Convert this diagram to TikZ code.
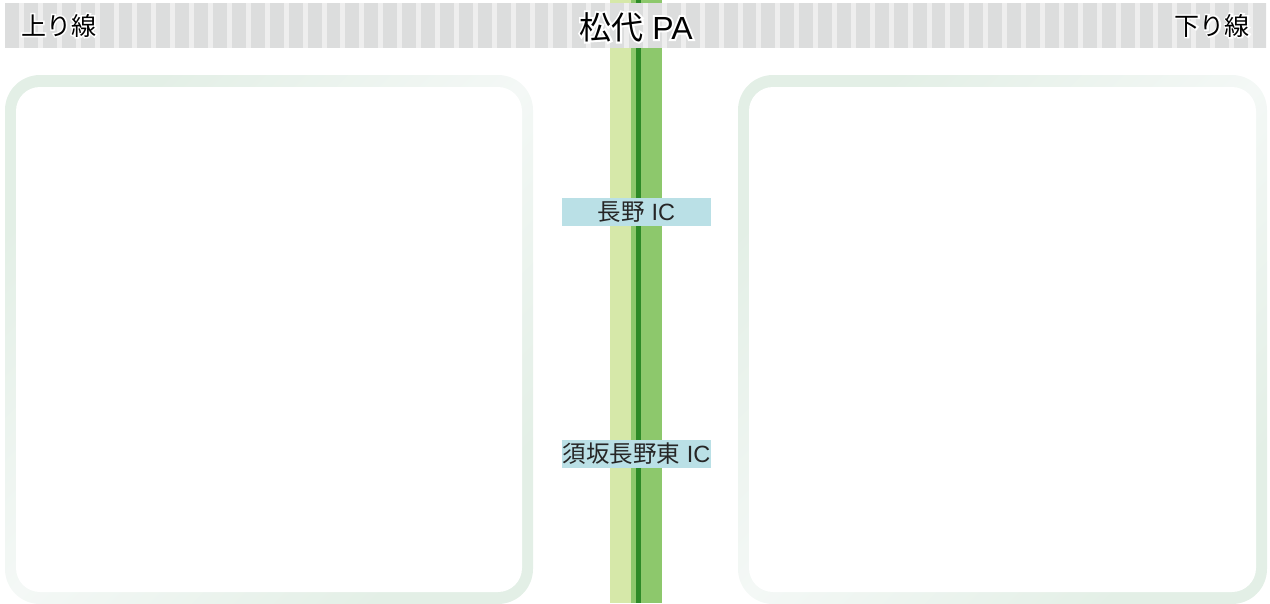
\documentclass[tikz,border=0pt]{standalone}
\usepackage{fontspec}
\setmainfont{Noto Sans CJK JP}
\newfontfamily\cjkhalo{Noto Sans CJK JP}[FakeBold=12]
\newfontfamily\latinfont{Liberation Sans}
\newfontfamily\latinhalo{Liberation Sans}[FakeBold=12]
\newif\ifhaloing
\newcommand\lt{\ifhaloing\latinhalo\else\latinfont\fi}
\newcommand\halo[1]{{\setbox0\hbox{\haloingtrue\cjkhalo #1}\rlap{\color{white}\box0}}#1}
\definecolor{hdrgray}{HTML}{DCDDDD}
\definecolor{hdrlight}{HTML}{EEEEEE}
\definecolor{roadlight}{HTML}{D6E8A9}
\definecolor{roadmid}{HTML}{8DC86C}
\definecolor{roaddark}{HTML}{2D8A27}
\definecolor{icbox}{HTML}{BAE0E6}
\definecolor{frameA}{HTML}{E3EFE6}
\definecolor{frameB}{HTML}{F4F8F6}
\tikzset{
  hdrtext/.style={inner sep=0pt, text=black},
  iclabel/.style={fill=icbox, inner sep=0pt, minimum width=149pt, minimum height=28pt, font=\fontsize{23.5pt}{25pt}\selectfont, text=black!85},
  frameshade/.style={rounded corners=35pt, top color=frameA, bottom color=frameA, middle color=frameB, shading angle=45},
  frameinner/.style={fill=white, rounded corners=24pt}
}
\begin{document}
\begin{tikzpicture}[x=1pt,y=-1pt]
\useasboundingbox (0,0) rectangle (1270,603);
% frames
\shade[frameshade] (5,75) rectangle (533,604);
\fill[frameinner] (16,87) rectangle (522,592);
\shade[frameshade] (738,75) rectangle (1267,604);
\fill[frameinner] (749,87) rectangle (1256,592);
% road
\fill[roadlight] (610,0) rectangle (631,603);
\fill[roadmid] (631,0) rectangle (636,603);
\fill[roaddark] (636,0) rectangle (641,603);
\fill[roadmid] (641,0) rectangle (662,603);
% header strip
\fill[hdrlight] (5,3) rectangle (1266,48);
\begin{scope}
\clip (5,3) rectangle (1266,48);
\foreach \k in {0,...,66} {
  \fill[hdrgray] ({5.09+18.908*\k},3) rectangle ({5.09+18.908*\k+13.9},48);
}
\end{scope}
\node[hdrtext, anchor=west, font=\fontsize{25pt}{27pt}\selectfont] (up) at (21,25.5) {\halo{上り線}};
\node[hdrtext, anchor=east, font=\fontsize{25pt}{27pt}\selectfont] (down) at (1250,25.5) {\halo{下り線}};
\node[hdrtext, font=\fontsize{32pt}{34pt}\selectfont] (pa) at (636,27) {\halo{松代{\lt{} PA}}};
% IC labels
\node[iclabel] (nagano) at (636.5,212) {長野{\latinfont{} IC}};
\node[iclabel] (suzaka) at (636.5,453.5) {須坂長野東{\latinfont{} IC}};
\end{tikzpicture}
\end{document}
